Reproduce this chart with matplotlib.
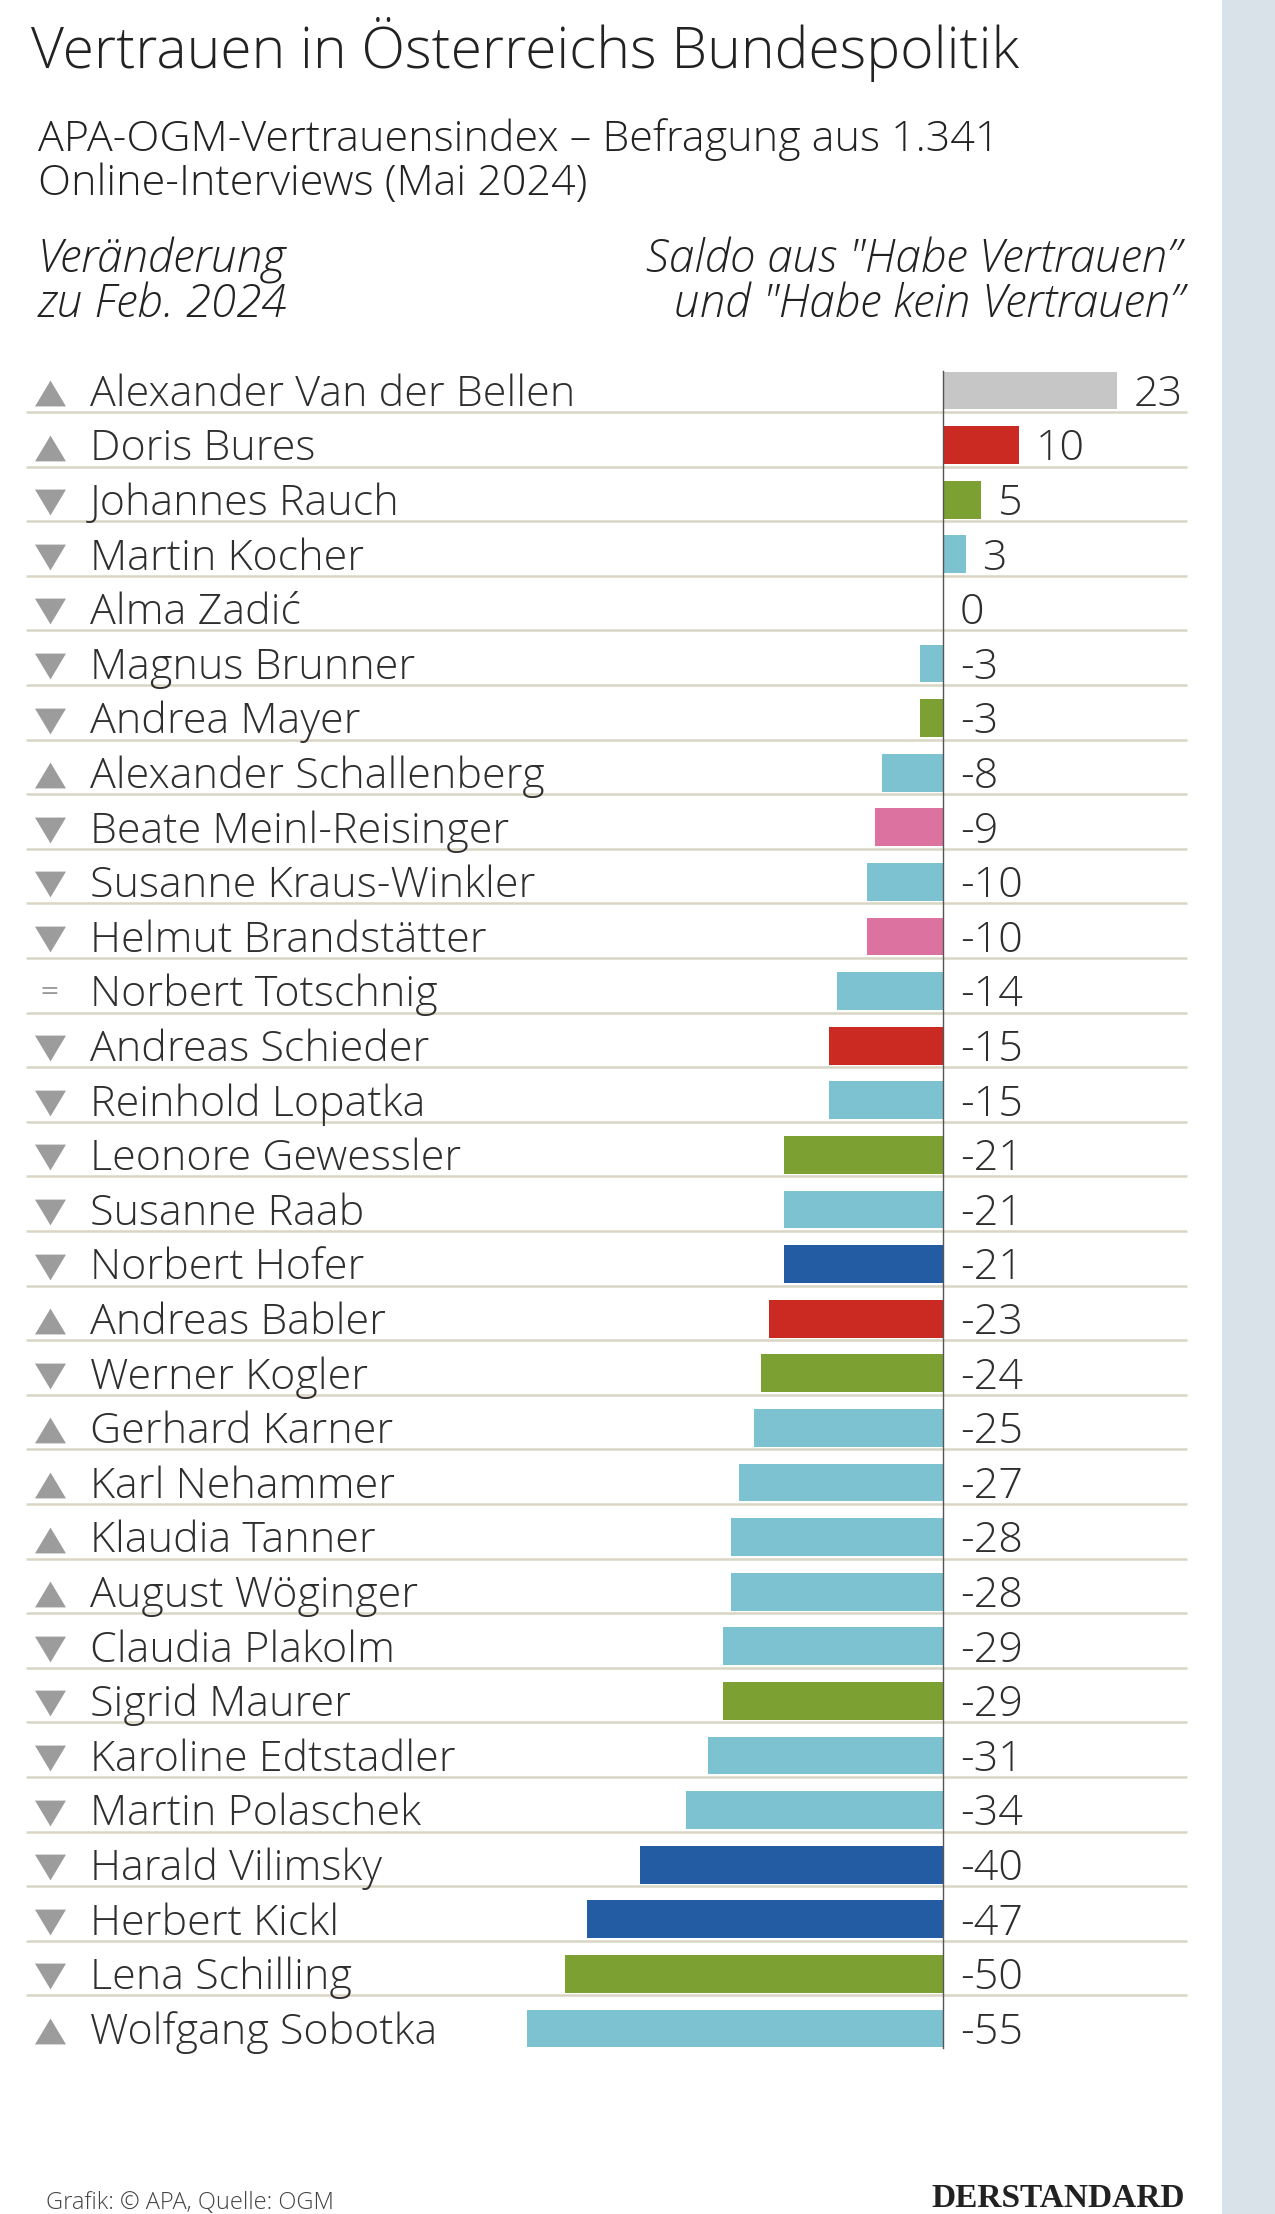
import matplotlib
matplotlib.use("Agg")
import matplotlib.pyplot as plt
from matplotlib import font_manager as fm
from matplotlib.path import Path
from matplotlib.patches import Rectangle
import matplotlib.transforms as mtrans

# ---------------- data ----------------
names = [
    "Alexander Van der Bellen", "Doris Bures", "Johannes Rauch", "Martin Kocher",
    "Alma Zadić", "Magnus Brunner", "Andrea Mayer", "Alexander Schallenberg",
    "Beate Meinl-Reisinger", "Susanne Kraus-Winkler", "Helmut Brandstätter",
    "Norbert Totschnig", "Andreas Schieder", "Reinhold Lopatka", "Leonore Gewessler",
    "Susanne Raab", "Norbert Hofer", "Andreas Babler", "Werner Kogler",
    "Gerhard Karner", "Karl Nehammer", "Klaudia Tanner", "August Wöginger",
    "Claudia Plakolm", "Sigrid Maurer", "Karoline Edtstadler", "Martin Polaschek",
    "Harald Vilimsky", "Herbert Kickl", "Lena Schilling", "Wolfgang Sobotka",
]
values = [23, 10, 5, 3, 0, -3, -3, -8, -9, -10, -10, -14, -15, -15, -21, -21, -21,
          -23, -24, -25, -27, -28, -28, -29, -29, -31, -34, -40, -47, -50, -55]
# change vs. Feb. 2024: "up", "down", "same"
changes = ["up", "up", "down", "down", "down", "down", "down", "up", "down", "down",
           "down", "same", "down", "down", "down", "down", "down", "up", "down", "up",
           "up", "up", "up", "down", "down", "down", "down", "down", "down", "down", "up"]
parties = ["BP", "SPÖ", "Grüne", "ÖVP", "Grüne", "ÖVP", "Grüne", "ÖVP", "NEOS", "ÖVP",
           "NEOS", "ÖVP", "SPÖ", "ÖVP", "Grüne", "ÖVP", "FPÖ", "SPÖ", "Grüne", "ÖVP",
           "ÖVP", "ÖVP", "ÖVP", "ÖVP", "Grüne", "ÖVP", "ÖVP", "FPÖ", "FPÖ", "Grüne", "ÖVP"]
party_colors = {"BP": "#c6c6c6", "SPÖ": "#cb2a22", "Grüne": "#7da033",
                "ÖVP": "#7dc2d0", "NEOS": "#dc72a0", "FPÖ": "#245ca3"}

title = "Vertrauen in Österreichs Bundespolitik"
subtitle = ["APA-OGM-Vertrauensindex – Befragung aus 1.341", "Online-Interviews (Mai 2024)"]
left_head = ["Veränderung", "zu Feb. 2024"]
right_head = ['Saldo aus "Habe Vertrauen”', 'und "Habe kein Vertrauen”']
footer = "Grafik: © APA, Quelle: OGM"
logo = "DERSTANDARD"

# ---------------- fonts ----------------
fl = fm.fontManager.ttflist
have = {f.name for f in fl}
FONT = "Open Sans" if "Open Sans" in have else ("Roboto" if "Roboto" in have else "DejaVu Sans")
light_ok = any(f.name == FONT and f.weight in (300, "light") for f in fl)
W = "light" if light_ok else "normal"
plt.rcParams["font.family"] = [FONT, "DejaVu Sans"]

# ---------------- layout ----------------
FW, FH = 1275, 2214
fig = plt.figure(figsize=(FW / 100, FH / 100), dpi=100)
fig.patch.set_facecolor("white")

def fx(x):
    return x / FW

def fy(y):
    return 1 - y / FH

# right grey panel
fig.add_artist(Rectangle((fx(1222), 0), fx(FW - 1222), 1, transform=fig.transFigure,
                         facecolor="#dae2e9", edgecolor="none", zorder=0))

ax = fig.add_axes([0, 0, 1, 1])
ax.set_facecolor("none")
zero_px, unit_px = 943, 7.57
row0, step = 390.5, 54.6
ax.set_xlim(-zero_px / unit_px, (FW - zero_px) / unit_px)
ax.set_ylim((FH - row0) / step, -row0 / step)
ax.axis("off")

n = len(names)
ypos = list(range(n))
ax.barh(ypos, values, height=0.69, color=[party_colors[p] for p in parties],
        edgecolor="none", zorder=2)

blend = mtrans.blended_transform_factory(ax.transAxes, ax.transData)
# separator lines
for i in range(n - 1):
    ax.plot([fx(26), fx(1187)], [i + 0.393, i + 0.393], transform=blend,
            color="#d9d5c5", lw=1.8, zorder=1, solid_capstyle="butt")
# zero line
ax.plot([0, 0], [-0.36, n - 1 + 0.36], color="#555555", lw=1.0, zorder=3)

tri_up = Path([(-1.2, -1), (1.2, -1), (0, 1), (-1.2, -1)],
              [Path.MOVETO, Path.LINETO, Path.LINETO, Path.CLOSEPOLY])
tri_dn = Path([(-1.2, 1), (1.2, 1), (0, -1), (-1.2, 1)],
              [Path.MOVETO, Path.LINETO, Path.LINETO, Path.CLOSEPOLY])

TXT = "#2e2e2e"
NS = 31
for i, (nm, v, ch) in enumerate(zip(names, values, changes)):
    ax.text(fx(90), i + 0.28, nm, transform=blend, fontsize=NS, weight=W,
            color=TXT, ha="left", va="baseline")
    lx = (v if v > 0 else 0) + 2.2
    ax.text(lx, i + 0.28, f"{v}", fontsize=NS, weight=W, color=TXT,
            ha="left", va="baseline")
    if ch == "same":
        ax.text(fx(49.5), i, "=", transform=blend, fontsize=17, color="#9c9c9c",
                ha="center", va="center", family="DejaVu Sans")
    else:
        ax.plot([fx(49.5)], [i + 0.045], transform=blend, linestyle="none",
                marker=tri_up if ch == "up" else tri_dn, markersize=22.3,
                color="#9c9c9c", markeredgewidth=0, zorder=3)

# headers
HC = "#222222"
fig.text(fx(31), fy(68), title, fontsize=41, weight=W, color=HC,
         ha="left", va="baseline")
fig.text(fx(38), fy(151), subtitle[0], fontsize=31, weight=W, color=HC,
         ha="left", va="baseline")
fig.text(fx(38), fy(195), subtitle[1], fontsize=31, weight=W, color=HC,
         ha="left", va="baseline")
fig.text(fx(38), fy(272), left_head[0], fontsize=33, weight=W, style="italic",
         color=HC, ha="left", va="baseline")
fig.text(fx(38), fy(317), left_head[1], fontsize=33, weight=W, style="italic",
         color=HC, ha="left", va="baseline")
fig.text(fx(1181), fy(272), right_head[0], fontsize=33, weight=W, style="italic",
         color=HC, ha="right", va="baseline")
fig.text(fx(1184), fy(317), right_head[1], fontsize=33, weight=W, style="italic",
         color=HC, ha="right", va="baseline")

# footer
fig.text(fx(46), fy(2209), footer, fontsize=17, weight=W, color="#444444",
         ha="left", va="baseline")
fig.text(fx(1185), fy(2207), logo, fontsize=24, weight="bold", color="#222222",
         family="Liberation Serif", ha="right", va="baseline")

fig.savefig("out.png", dpi=100, facecolor="white")
